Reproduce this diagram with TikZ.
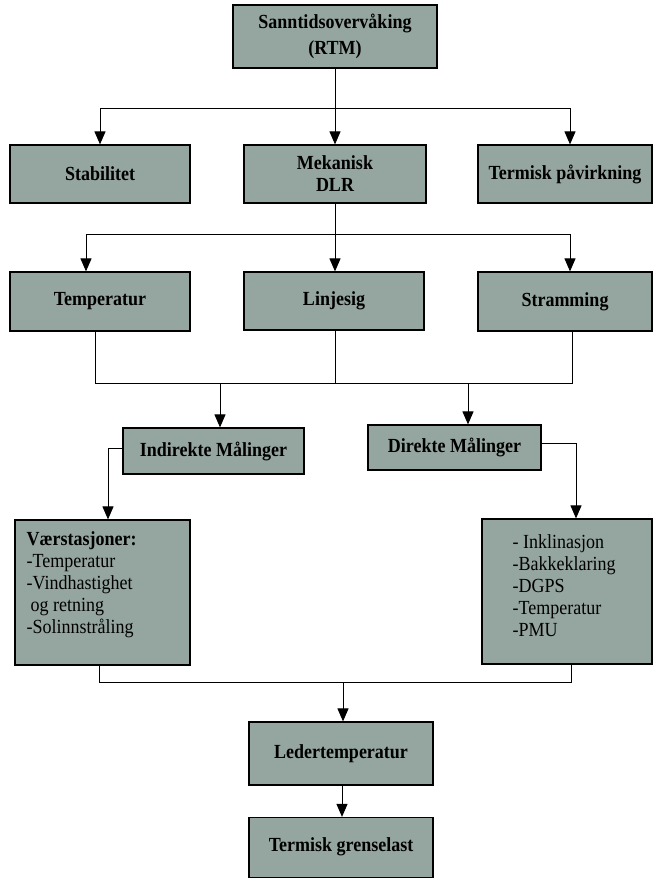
\documentclass[tikz,border=0pt]{standalone}
\usepackage{fontspec}
\setmainfont[FakeStretch=0.9]{Liberation Serif}
\usetikzlibrary{arrows.meta}

\definecolor{boxgray}{RGB}{149,165,159}

\tikzset{
  box/.style={draw=black,line width=1.2pt,fill=boxgray,inner sep=0pt,
    font=\fontsize{20}{22}\selectfont\bfseries,align=center},
  listtext/.style={anchor=north west,inner sep=0pt,align=left,
    font=\fontsize{20}{22}\selectfont},
  line/.style={line width=1pt},
  arr/.style={line width=1pt,-{Triangle[length=13pt,width=11pt]}}
}

\begin{document}
\begin{tikzpicture}[x=1pt,y=-1pt]
  \useasboundingbox (0,0) rectangle (655,878);

  % top level
  \node[box,minimum width=204pt,minimum height=63pt,
    font=\fontsize{20}{26}\selectfont\bfseries] (rtm) at (335,36.5)
    {Sanntidsoverv\aa king\\(RTM)};

  \node[box,minimum width=180pt,minimum height=58pt] (stab) at (100,174) {Stabilitet};
  \node[box,minimum width=182pt,minimum height=58pt] (mek) at (335,174) {Mekanisk\\DLR};
  \node[box,minimum width=174pt,minimum height=58pt] (term) at (565,174) {Termisk p\aa virkning};

  \node[box,minimum width=180pt,minimum height=59pt] (temp) at (100,301.5) {Temperatur};
  \node[box,minimum width=180pt,minimum height=58pt] (linje) at (334,301) {\raisebox{3pt}{Linjesig}};
  \node[box,minimum width=174pt,minimum height=59pt] (stram) at (565,301.5) {Stramming};

  \node[box,minimum width=181pt,minimum height=46pt] (ind) at (213.5,451) {Indirekte M\aa linger};
  \node[box,minimum width=173pt,minimum height=45pt] (dir) at (454.5,447.5) {Direkte M\aa linger};

  % measurement lists
  \node[box,minimum width=175pt,minimum height=145pt] (vaer) at (102.5,592.5) {};
  \node[listtext] (vaerlist) at ([shift={(12pt,-12pt)}]vaer.north west)
    {\textbf{V\ae rstasjoner:}\\-Temperatur\\-Vindhastighet\\\hspace{4pt}og retning\\-Solinnstr\aa ling};

  \node[box,minimum width=170pt,minimum height=145pt] (dmal) at (567,591.5) {};
  \node[listtext] (dmallist) at ([shift={(31pt,-16pt)}]dmal.north west)
    {- Inklinasjon\\-Bakkeklaring\\-DGPS\\-Temperatur\\-PMU};

  \node[box,minimum width=184pt,minimum height=63pt] (leder) at (341,753.5) {Ledertemperatur};
  \node[box,minimum width=184pt,minimum height=60pt] (grense) at (341,847.5) {\raisebox{5pt}{Termisk grenselast}};

  % junctions
  \coordinate (j1) at (335,108);
  \coordinate (j2) at (335,234);
  \coordinate (j3) at (335,383);
  \coordinate (j4) at (343,682);

  \draw[line] (rtm) -- (j1);
  \draw[arr] (j1) -| (stab.north);
  \draw[arr] (j1) -- (mek.north);
  \draw[arr] (j1) -| ([xshift=5pt]term.north);

  \draw[line] (mek) -- (j2);
  \draw[arr] (j2) -| ([xshift=-14pt]temp.north);
  \draw[arr] (j2) -- (j2 |- linje.north);
  \draw[arr] (j2) -| ([xshift=5pt]stram.north);

  \draw[line] ([xshift=-5pt]temp.south) |- (j3);
  \draw[line] (j2 |- linje.south) -- (j3);
  \draw[line] ([xshift=7pt]stram.south) |- (j3);
  \draw[arr] (j3 -| 220,0) -- ([xshift=6.5pt]ind.north);
  \draw[arr] (j3 -| 468,0) -- ([xshift=13.5pt]dir.north);

  \draw[arr] ([yshift=3pt]ind.west) -| ([xshift=5.5pt]vaer.north);
  \draw[arr] ([yshift=4pt]dir.east) -| ([xshift=9pt]dmal.north);

  \draw[line] ([xshift=-3.5pt]vaer.south) |- (j4);
  \draw[line] ([xshift=4pt]dmal.south) |- (j4);
  \draw[arr] (j4) -- ([xshift=2pt]leder.north);
  \draw[arr] ([xshift=1pt]leder.south) -- ([xshift=1pt]grense.north);
\end{tikzpicture}
\end{document}
